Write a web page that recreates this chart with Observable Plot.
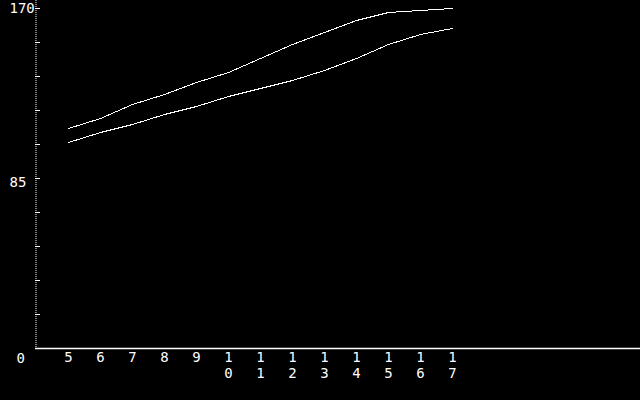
<!DOCTYPE html>
<html>
<head>
<meta charset="utf-8">
<script src="https://cdn.jsdelivr.net/npm/d3@7"></script>
<script src="https://cdn.jsdelivr.net/npm/@observablehq/plot@0.6"></script>
<style>
  html, body { margin: 0; padding: 0; background: #000; }
  #chart svg { display: block; }
</style>
</head>
<body>
<div id="chart"></div>
<script>
const ages = [5, 6, 7, 8, 9, 10, 11, 12, 13, 14, 15, 16, 17];
const upperSeries = [110, 115, 122, 127, 133, 138, 145, 152, 158, 164, 168, 169, 170];
const lowerSeries = [103, 108, 112, 117, 121, 126, 130, 134, 139, 145, 152, 157, 160];
const yMinorTicks = [17, 34, 51, 68, 85, 102, 119, 136, 153, 170];
const yLabels = [170, 85, 0];
const xDomain = [4, 22.875];
const yDomain = [0, 170];

const rows = [];
ages.forEach((a, i) => {
  rows.push({age: a, value: upperSeries[i], series: "upper"});
  rows.push({age: a, value: lowerSeries[i], series: "lower"});
});

const font = "'DejaVu Sans Mono', monospace";
const fs = 14;

const chart = Plot.plot({
  width: 640,
  height: 400,
  marginLeft: 36,
  marginRight: 0,
  marginTop: 8,
  marginBottom: 52,
  style: {background: "#000", color: "#fff", fontFamily: font},
  x: {domain: xDomain, axis: null},
  y: {domain: yDomain, axis: null},
  marks: [
    Plot.ruleX([xDomain[0]], {stroke: "#fff", strokeWidth: 1, strokeDasharray: "1,1", insetTop: -8, dx: -0.5}),
    Plot.ruleY([0], {stroke: "#fff", strokeWidth: 1.5, insetLeft: -1}),
    Plot.tickY(yMinorTicks, {y: d => d, stroke: "#fff", strokeWidth: 1, insetRight: 600, insetLeft: -1}),
    Plot.line(rows, {x: "age", y: "value", z: "series", stroke: "#fff", strokeWidth: 1, shapeRendering: "crispEdges"}),
    Plot.text(ages, {
      x: d => d,
      text: d => String(d).split("").join("\n"),
      frameAnchor: "bottom",
      lineAnchor: "top",
      lineHeight: 16 / fs,
      dy: 2,
      fill: "#fff",
      fontSize: fs,
      fontFamily: font
    }),
    Plot.text(yLabels.filter(d => d === 170), {
      y: d => d, text: d => String(d), frameAnchor: "left", textAnchor: "start",
      dx: -27, dy: 0, fill: "#fff", fontSize: fs, fontFamily: font
    }),
    Plot.text(yLabels.filter(d => d === 85), {
      y: d => d, text: d => String(d), frameAnchor: "left", textAnchor: "start",
      dx: -27, dy: 4, fill: "#fff", fontSize: fs, fontFamily: font
    }),
    Plot.text(yLabels.filter(d => d === 0), {
      y: d => d, text: d => String(d), frameAnchor: "left", textAnchor: "start",
      dx: -20, dy: 10, fill: "#fff", fontSize: fs, fontFamily: font
    })
  ]
});
document.getElementById("chart").appendChild(chart);
</script>
</body>
</html>
